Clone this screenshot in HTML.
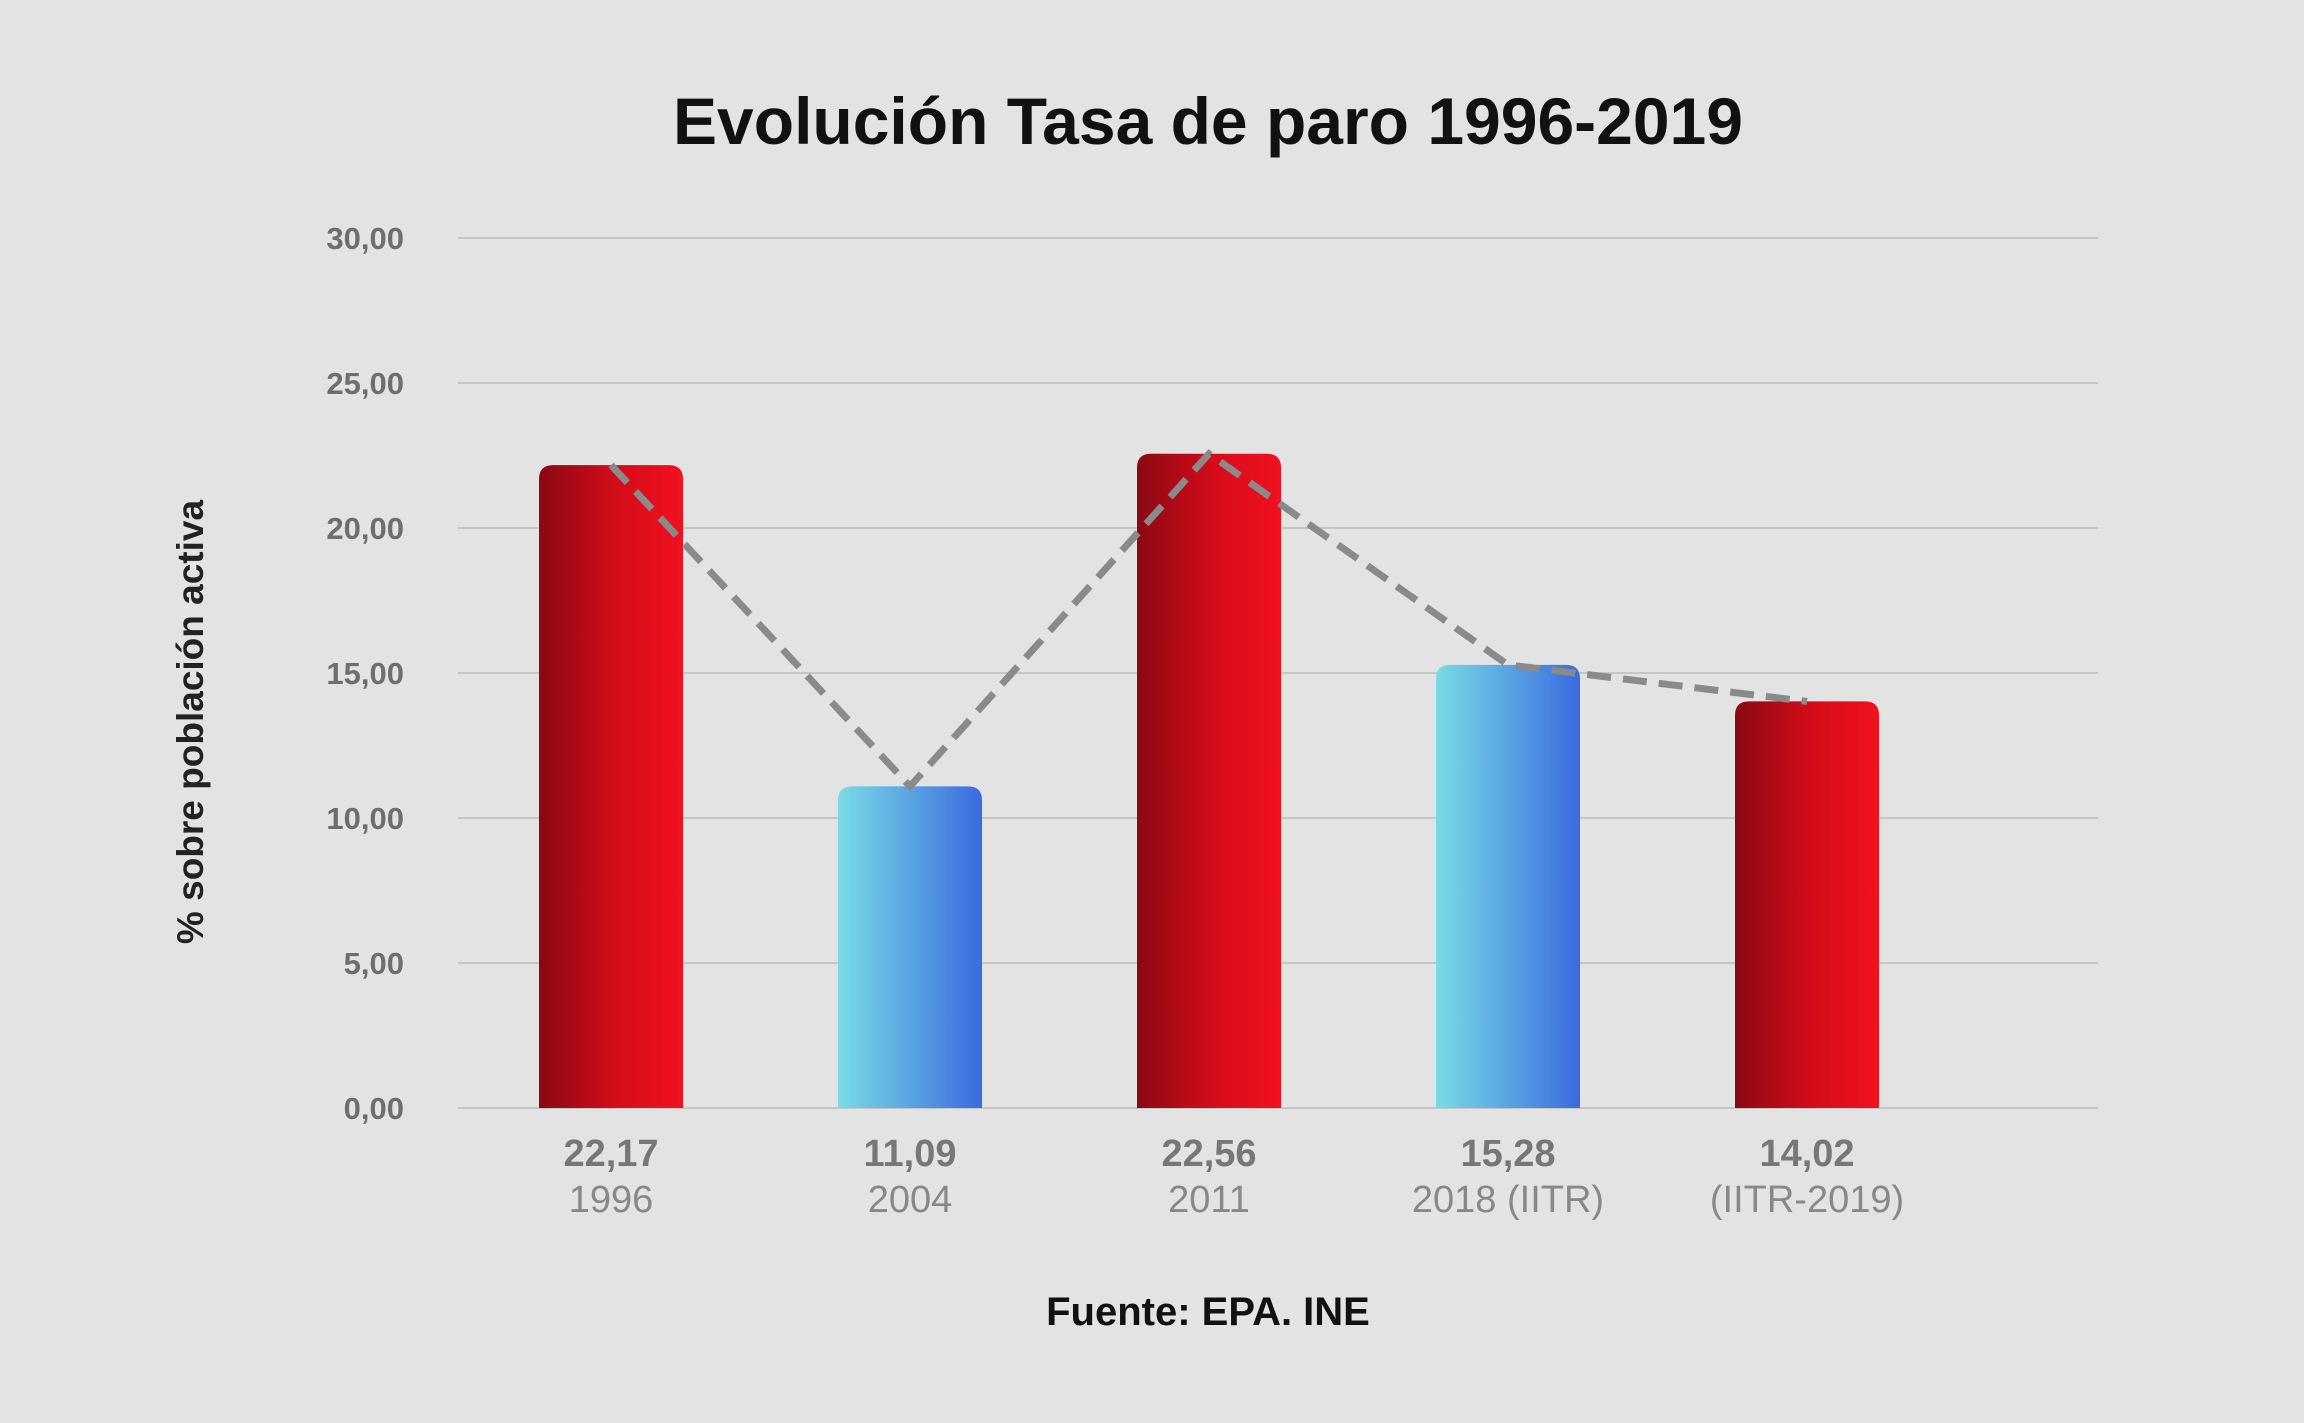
<!DOCTYPE html>
<html><head><meta charset="utf-8">
<style>
html,body{margin:0;padding:0;background:#e3e3e3;}
svg{display:block;font-family:"Liberation Sans",sans-serif;}
</style></head>
<body>
<svg id="chart" width="2304" height="1423" viewBox="0 0 2304 1423" xmlns="http://www.w3.org/2000/svg">
<defs>
<linearGradient id="gRed" x1="0" x2="1" y1="0" y2="0"><stop offset="0" stop-color="#8a0912"/><stop offset="0.55" stop-color="#d60c1a"/><stop offset="1" stop-color="#f2111f"/></linearGradient>
<linearGradient id="gBlue" x1="0" x2="1" y1="0" y2="0"><stop offset="0" stop-color="#78dbe6"/><stop offset="1" stop-color="#3a6bdf"/></linearGradient>
</defs>
<rect width="2304" height="1423" fill="#e3e3e3"/>
<text x="1208" y="144" text-anchor="middle" font-size="66" font-weight="bold" fill="#111">Evolución Tasa de paro 1996-2019</text>
<text transform="translate(203,722) rotate(-90)" text-anchor="middle" font-size="37" font-weight="bold" fill="#222">% sobre población activa</text>
<text x="1208" y="1325" text-anchor="middle" font-size="40" font-weight="bold" fill="#111">Fuente: EPA. INE</text>
<g id="grid"></g><g id="bars"></g><g id="line"></g><g id="labels"></g>
</svg>
<script>
const categories = ["1996","2004","2011","2018 (IITR)","(IITR-2019)"];
const values = [22.17, 11.09, 22.56, 15.28, 14.02];
const valueLabels = ["22,17","11,09","22,56","15,28","14,02"];
const colors = ["red","blue","red","blue","red"];
const yTicks = [0,5,10,15,20,25,30];
const yTickLabels = ["0,00","5,00","10,00","15,00","20,00","25,00","30,00"];

const NS="http://www.w3.org/2000/svg";
const y0=1108, y30=238, xL=458, xR=2098, first=611, step=299, bw=144;
function y(v){return y0-(v/30)*(y0-y30);}
function x(i){return first+i*step;}
function mk(t,a,p){const e=document.createElementNS(NS,t);for(const k in a)e.setAttribute(k,a[k]);p.appendChild(e);return e;}
const grid=document.getElementById('grid'),bars=document.getElementById('bars'),line=document.getElementById('line'),labels=document.getElementById('labels');
yTicks.forEach((t,i)=>{
  const l=mk('line',{x1:xL,x2:xR,y1:y(t),y2:y(t),stroke:'#c6c6c6','stroke-width':2},grid);
  
  
  const tx=mk('text',{x:404,y:y(t)+11,'text-anchor':'end','font-size':31,'font-weight':'bold',fill:'#6e6e6e'},grid);
  tx.textContent=yTickLabels[i];
  
  
});
values.forEach((v,i)=>{
  const top=y(v),r=14,l=x(i)-bw/2;
  const d=`M${l},${y0}V${top+r}Q${l},${top} ${l+r},${top}H${l+bw-r}Q${l+bw},${top} ${l+bw},${top+r}V${y0}Z`;
  const p=mk('path',{d:d,fill:colors[i]==='red'?'url(#gRed)':'url(#gBlue)'},bars);
  
  
  const vl=mk('text',{x:x(i),y:1166,'text-anchor':'middle','font-size':38,'font-weight':'bold',fill:'#777'},labels);
  vl.textContent=valueLabels[i];
  
  
  const cl=mk('text',{x:x(i),y:1212,'text-anchor':'middle','font-size':38,fill:'#888'},labels);
  cl.textContent=categories[i];
  
  
});
const pts=values.map((v,i)=>x(i)+','+y(v)).join(' ');
const pl=mk('polyline',{points:pts,fill:'none',stroke:'#8a8a8a','stroke-width':7,'stroke-dasharray':'24 12'},line);


</script>
</body></html>
